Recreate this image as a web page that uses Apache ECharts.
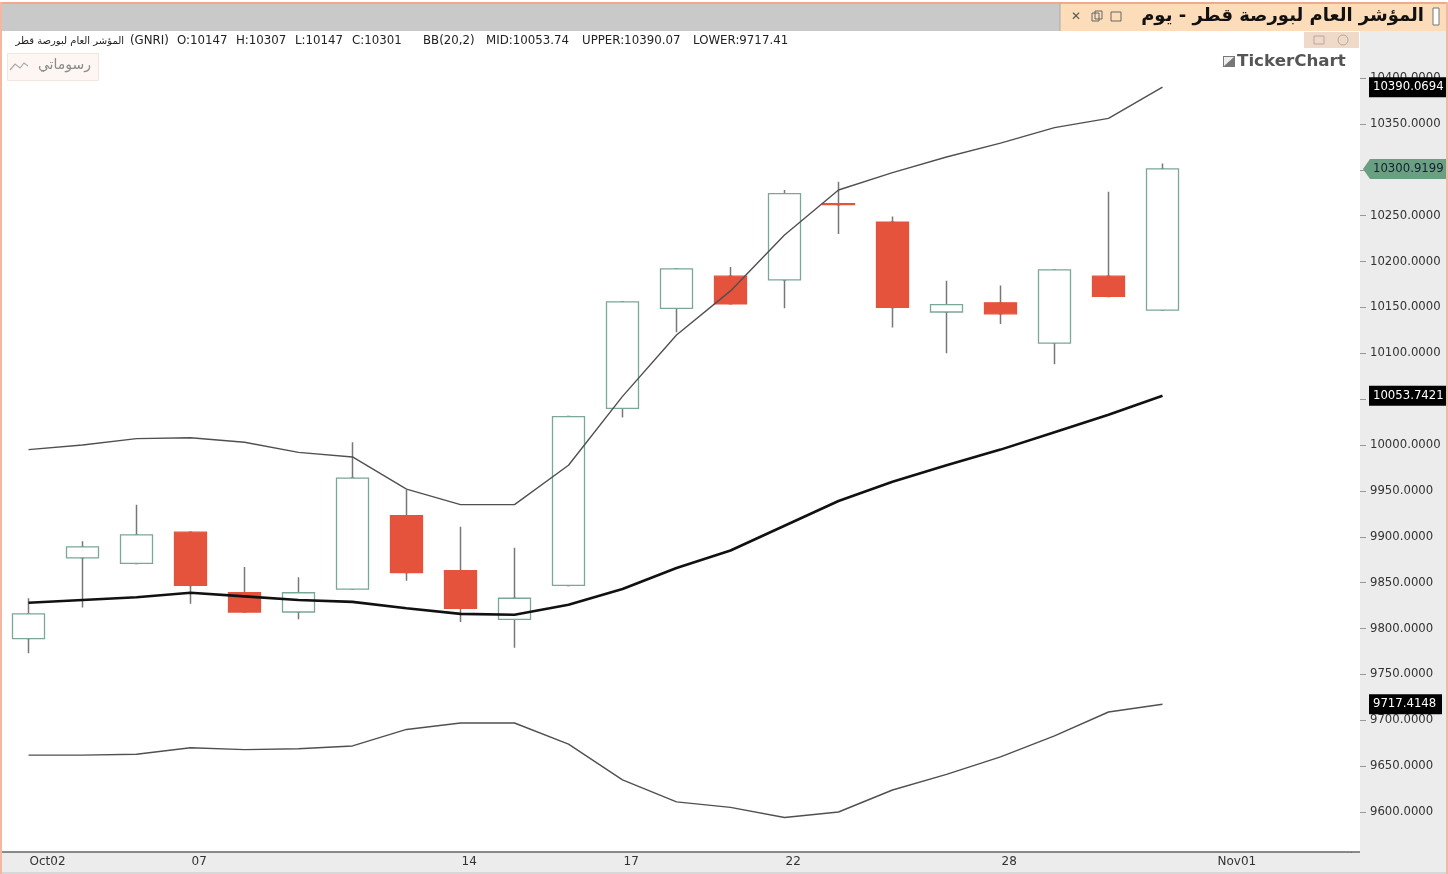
<!DOCTYPE html>
<html><head><meta charset="utf-8">
<style>html,body{margin:0;padding:0;background:#ececec}#c{width:1448px;height:874px}</style>
<script src="https://cdn.jsdelivr.net/npm/echarts@6/dist/echarts.min.js"></script>
</head><body><div id="c"></div>
<script>
const categories=['Oct02','03','04','07','08','09','10','11','14','15','16','17','18','21','22','23','24','25','28','29','30','31','Nov01','04','05'];
const shownTicks=['Oct02','07','14','17','22','28','Nov01'];
const opens =[9789,9877,9871,9905,9839,9818,9843,9923,9863,9810,9847,10040,10149,10184,10180,10263,10243,10145,10155,10111,10184,10147];
const closes=[9816,9889,9902,9847,9818,9839,9964,9861,9822,9833,10031,10156,10192,10154,10274,10262,10150,10153,10143,10191,10162,10301];
const lows  =[9773,9823,9871,9827,9818,9810,9843,9852,9807,9779,9847,10030,10123,10154,10149,10230,10128,10100,10132,10088,10161,10146];
const highs =[9833,9895,9935,9905,9867,9856,10003,9951,9911,9888,10031,10156,10192,10194,10278,10287,10249,10179,10174,10191,10276,10307];
const upper=[9995,10000,10007,10008,10003,9992,9987,9952,9935,9935,9978,10053,10120,10168,10229,10278,10297,10314,10329,10346,10356,10390.07];
const mid  =[9828,9831,9834,9839,9835,9831,9829,9822,9816,9815,9826,9843,9866,9885,9912,9939,9960,9978,9995,10014,10033,10053.74];
const lower=[9662,9662,9663,9670,9668,9669,9672,9690,9697,9697,9674,9635,9611,9605,9594,9600,9624,9641,9660,9683,9709,9717.41];
const yTicks=[9600,9650,9700,9750,9800,9850,9900,9950,10000,10050,10100,10150,10200,10250,10300,10350,10400];
const priceTags=[[10390.0694,'10390.0694','#000','#fff'],[10300.9199,'10300.9199','#6b9f82','#123'],[10053.7421,'10053.7421','#000','#fff'],[9717.4148,'9717.4148','#000','#fff']];
const titleText='المؤشر العام لبورصة قطر - يوم';
const symbolText='المؤشر العام لبورصة قطر';
const drawingsText='رسوماتي';
const infoItems=[[130,'(GNRI)'],[177,'O:10147'],[236,'H:10307'],[295,'L:10147'],[352,'C:10301'],[423,'BB(20,2)'],[486,'MID:10053.74'],[582,'UPPER:10390.07'],[693,'LOWER:9717.41']];

const font='"DejaVu Sans"';
const chart=echarts.init(document.getElementById('c'),null,{renderer:'canvas'});
const hb=(a,b)=>a.map((v,i)=>[v,b[i],Math.min(v,b[i]),Math.max(v,b[i])]);
const line=(name,data,w,c)=>({name,type:'line',data,symbol:'none',z:5,silent:true,lineStyle:{width:w,color:c}});
chart.setOption({
  animation:false,backgroundColor:'#ececec',
  grid:{left:1.5,top:32,width:1350,height:820,show:true,backgroundColor:'#fff',borderWidth:0,containLabel:false},
  xAxis:{type:'category',data:categories,boundaryGap:true,
    axisLine:{lineStyle:{color:'#666',width:1.5}},
    axisTick:{alignWithLabel:true,inside:true,length:7,lineStyle:{color:'#bbb'},interval:(i,v)=>shownTicks.includes(v)},
    axisLabel:{interval:(i,v)=>shownTicks.includes(v),align:'left',margin:4,padding:[0,0,0,1],color:'#333',fontFamily:font,fontSize:12},
    splitLine:{show:false}},
  yAxis:{type:'value',position:'right',offset:8.5,min:9556.4,max:10450.2,scale:true,
    axisLine:{show:false},
    axisTick:{show:true,length:6,lineStyle:{color:'#999'},customValues:yTicks},
    axisLabel:{margin:10,color:'#333',fontFamily:font,fontSize:11.7,customValues:yTicks,formatter:v=>v.toFixed(4)},
    splitLine:{show:false}},
  series:[
    {name:'wicks',type:'candlestick',barWidth:2,silent:true,z:2,
     data:opens.map((o,i)=>[o,closes[i],lows[i],highs[i]]),
     itemStyle:{color:'#fff',color0:'#e5533d',borderColor:'#777',borderColor0:'#777',borderWidth:1.5}},
    {name:'GNRI',type:'candlestick',barWidth:33,silent:true,z:3,
     data:hb(opens,closes),
     itemStyle:{color:'#fff',color0:'#e5533d',borderColor:'#7aa896',borderColor0:'#e5533d',borderWidth:1.3}},
    line('UPPER',upper,1.4,'#505050'),
    line('MID',mid,2.6,'#111'),
    line('LOWER',lower,1.4,'#505050')
  ]
});
const yp=v=>chart.convertToPixel({yAxisIndex:0},v);
const g=[];
const rect=(x,y,w,h,fill,stroke,z)=>g.push({type:'rect',silent:true,z:z||10,shape:{x,y,width:w,height:h},style:{fill,stroke:stroke||null,lineWidth:stroke?1:0}});
const txt=(x,y,t,size,fill,opts)=>g.push({type:'text',silent:true,z:12,x,y,style:Object.assign({text:t,fontSize:size,fontFamily:font,fill,verticalAlign:'middle',align:'left'},opts||{})});
// plot extension
rect(1351,31,9,821,'#fff',null,1);
rect(0,31,1360,1,'#fff',null,1);
rect(1351,851.25,9,1.5,'#666',null,1);
// top bars
rect(0,0,1448,3,'#ffffff');
rect(0,3,1060,28,'#c9c9c9');
rect(1060,3,388,28,'#fcdcb9');
g.push({type:'line',silent:true,z:11,shape:{x1:1060,y1:3,x2:1060,y2:31},style:{stroke:'#aaa',lineWidth:1}});
txt(1424,16,titleText,18,'#111',{align:'right',fontWeight:'bold'});
rect(1433,8,6,17,'#fff','#777');
txt(1076,17,'✕',12,'#555',{align:'center',fontWeight:'bold'});
rect(1092,13,7,8,'none','#666');rect(1095,11,7,8,'none','#666');
rect(1111,12,10,9,'none','#666');
// info line
txt(124,41,symbolText,10,'#222',{align:'right'});
infoItems.forEach(a=>txt(a[0],41,a[1],11.8,'#222'));
// drawings button
rect(7.5,53.5,91,27,'#fdf6f2','#f3e6de');
txt(91,65,drawingsText,14,'#8a8a8a',{align:'right'});
g.push({type:'polyline',silent:true,z:12,shape:{points:[[10,70],[15,64],[20,68],[24,63],[28,66]]},style:{stroke:'#aaa',fill:null,lineWidth:1.2}});
// top-right tool box and logo
rect(1304,32,55,16,'#efd9c9');
rect(1314,36,10,8,'none','#b9a99c');
g.push({type:'circle',silent:true,z:12,shape:{cx:1343,cy:40,r:5},style:{fill:'none',stroke:'#b9a99c',lineWidth:1}});
rect(1223,56,12,11,'#777');
g.push({type:'polygon',silent:true,z:11,shape:{points:[[1224,57],[1234,57],[1224,66]]},style:{fill:'#eee'}});
txt(1237,62,'TickerChart',16.7,'#555',{fontWeight:'bold'});
// price tags on the axis
priceTags.forEach(t=>{
  const y=yp(t[0]);
  const green=t[2]!=='#000';
  if(green){g.push({type:'polygon',silent:true,z:11,shape:{points:[[1363,y],[1370,y-10],[1446,y-10],[1446,y+10],[1370,y+10]]},style:{fill:t[2]}});}
  else{rect(1369,y-10,t[1].length>9?77:73,20,t[2]);}
  txt(1373,y,t[1],11.7,t[3]);
});
// window frame
rect(0,872,1448,2,'#d8d8d8');
rect(0,2,1448,2,'#f0a98f');
rect(0,2,2,872,'#f4b8a2');
rect(1446,2,2,872,'#f4b8a2');
chart.setOption({graphic:{elements:g}});
</script></body></html>
